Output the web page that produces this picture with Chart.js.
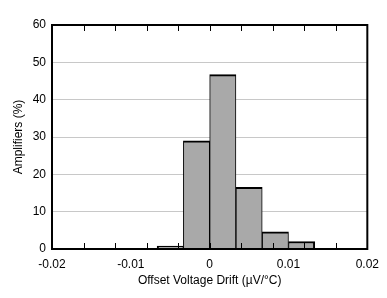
<!DOCTYPE html>
<html>
<head>
<meta charset="utf-8">
<script src="https://cdn.jsdelivr.net/npm/chart.js@4"></script>
<style>
  body { margin: 0; background: #fff; }
  #wrap { width: 387px; height: 298px; }
</style>
</head>
<body>
<div id="wrap"><canvas id="histChart"></canvas></div>
<script>
// bin centres (uV/C), bin width is 1/300
var binCenters = [-0.005, -0.001667, 0.001667, 0.005, 0.008333, 0.011667];
var amplifiers = [0.8, 29.0, 46.7, 16.5, 4.6, 2.0];
var xTickLabels = ['-0.02', '-0.01', '0', '0.01', '0.02'];
var yTickLabels = ['0', '10', '20', '30', '40', '50', '60'];
var xMarkStep = 0.004;

Chart.defaults.font.family = '"Liberation Sans", Arial, sans-serif';
Chart.defaults.font.size = 12;
Chart.defaults.color = '#000';

// black frame + inward tick marks on top and bottom
var framePlugin = {
  id: 'frame',
  afterDatasetsDraw: function (chart) {
    var c = chart.ctx, a = chart.chartArea, x = chart.scales.x;
    c.save();
    c.strokeStyle = '#000';
    c.lineWidth = 1;
    c.beginPath();
    for (var v = x.min + xMarkStep; v < x.max - 1e-9; v += xMarkStep) {
      var px = Math.round(x.getPixelForValue(v)) + 0.5;
      c.moveTo(px, a.top); c.lineTo(px, a.top + 6);
      c.moveTo(px, a.bottom); c.lineTo(px, a.bottom - 6);
    }
    c.stroke();
    c.lineWidth = 2;
    c.strokeRect(a.left, a.top, a.right - a.left, a.bottom - a.top);
    c.restore();
  }
};

var ctx = document.getElementById('histChart').getContext('2d');
var histChart = new Chart(ctx, {
  type: 'bar',
  data: {
    datasets: [{
      label: 'Amplifiers',
      data: binCenters.map(function (c, i) { return { x: c, y: amplifiers[i] }; }),
      backgroundColor: '#a9a9a9',
      borderColor: '#000',
      borderWidth: function (context) {
        var i = context.dataIndex, n = binCenters.length;
        return { top: 2, left: i === 0 ? 2 : 1, right: i === n - 1 ? 2 : 1, bottom: 0 };
      },
      borderSkipped: false,
      barPercentage: 1,
      categoryPercentage: 1
    }]
  },
  options: {
    responsive: true,
    maintainAspectRatio: false,
    animation: false,
    layout: { padding: { top: 25, right: 17, left: 0, bottom: 0 } },
    plugins: { legend: { display: false }, tooltip: { enabled: false } },
    scales: {
      x: {
        type: 'linear',
        min: -0.02,
        max: 0.02,
        offset: false,
        grid: { display: false, drawTicks: false, offset: false },
        border: { display: false },
        ticks: {
          stepSize: 0.01,
          padding: 8,
          maxRotation: 0,
          autoSkip: false,
          callback: function (v, i) { return xTickLabels[i]; }
        },
        title: {
          display: true,
          text: 'Offset Voltage Drift (µV/°C)',
          padding: { top: 0, bottom: 10 }
        },
        afterFit: function (s) { s.height = 49; }
      },
      y: {
        min: 0,
        max: 60,
        grid: { color: '#c8c8c8', lineWidth: 1, drawTicks: false },
        border: { display: false },
        ticks: {
          stepSize: 10,
          padding: 6,
          callback: function (v, i) { return yTickLabels[i]; }
        },
        title: {
          display: true,
          text: 'Amplifiers (%)',
          padding: { top: 11, bottom: 0 }
        },
        afterFit: function (s) { s.width = 52; }
      }
    }
  },
  plugins: [framePlugin]
});
</script>
</body>
</html>
